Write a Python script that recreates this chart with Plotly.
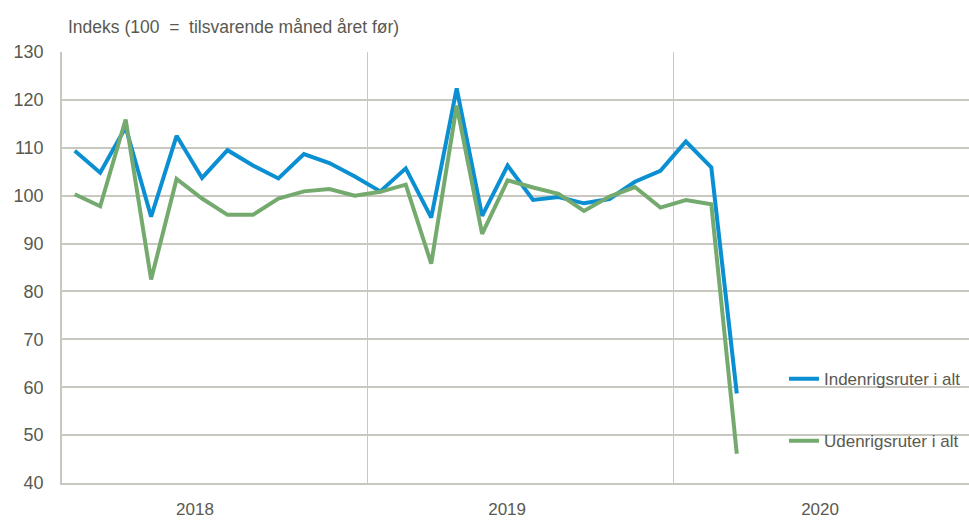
import numpy as np
import plotly.graph_objects as go

months = [
    "2018-01", "2018-02", "2018-03", "2018-04", "2018-05", "2018-06",
    "2018-07", "2018-08", "2018-09", "2018-10", "2018-11", "2018-12",
    "2019-01", "2019-02", "2019-03", "2019-04", "2019-05", "2019-06",
    "2019-07", "2019-08", "2019-09", "2019-10", "2019-11", "2019-12",
    "2020-01", "2020-02", "2020-03",
]
indenrigs = [
    109.4, 104.8, 114.3, 95.6, 112.5, 103.7, 109.5, 106.3, 103.6, 108.7, 106.8, 104.0,
    100.9, 105.7, 95.4, 122.4, 95.8, 106.3, 99.1, 99.7, 98.4, 99.3, 102.9, 105.2,
    111.3, 105.9, 58.7,
]
udenrigs = [
    100.3, 97.8, 115.9, 82.5, 103.5, 99.4, 96.0, 96.0, 99.4, 100.9, 101.4, 100.0,
    100.8, 102.3, 85.8, 118.8, 92.0, 103.2, 101.7, 100.4, 96.8, 99.8, 101.8, 97.5,
    99.1, 98.2, 46.1,
]
years = ["2018", "2019", "2020"]
year_label_pos = [5.22, 17.48, 29.77]
y_title = "Indeks (100  =  tilsvarende måned året før)"
name_ind = "Indenrigsruter i alt"
name_ud = "Udenrigsruter i alt"

x = np.arange(len(months)) + 0.5

FONT = "Liberation Sans, Arial, sans-serif"
TXT = "#595950"
GRID = "#c8c8c0"

fig = go.Figure()
fig.add_trace(go.Scatter(x=x, y=indenrigs, mode="lines", name=name_ind, showlegend=True,
                         line=dict(color="#0a8fd2", width=4), legend="legend"))
fig.add_trace(go.Scatter(x=x, y=udenrigs, mode="lines", name=name_ud, showlegend=True,
                         line=dict(color="#75aa6e", width=4), legend="legend2"))

leg_common = dict(font=dict(family=FONT, size=17, color=TXT), bgcolor="rgba(0,0,0,0)",
                  xanchor="left", yanchor="middle", x=0.796, visible=True)
fig.update_layout(
    width=969, height=522,
    margin=dict(l=62, r=0, t=52, b=39),
    plot_bgcolor="white", paper_bgcolor="white",
    font=dict(family=FONT, size=17, color=TXT),
    showlegend=True,
    legend=dict(y=0.241, **leg_common),
    legend2=dict(y=0.097, **leg_common),
    xaxis=dict(range=[0, 35.62], tickvals=year_label_pos, ticktext=years,
               showgrid=False, zeroline=False, showline=True, linecolor=GRID,
               linewidth=1.5, ticks="", ticklabelstandoff=10, automargin=False,
               tickfont=dict(size=17),
               minor=dict(tick0=0, dtick=12, showgrid=True, gridcolor=GRID, gridwidth=1.2, ticks="")),
    yaxis=dict(range=[40, 130], dtick=10, showgrid=True, gridcolor=GRID, gridwidth=1.5,
               zeroline=False, showline=True, linecolor=GRID, linewidth=1.5,
               ticks="", ticklabelstandoff=13, automargin=False,
               tickfont=dict(size=18)),
    annotations=[dict(text=y_title, xref="paper", yref="paper", x=0.004, y=1.058,
                      xanchor="left", yanchor="middle", showarrow=False,
                      font=dict(family=FONT, size=17.5, color=TXT))],
)
fig.write_html("out.html", config={"displayModeBar": False},
               post_script="document.body.style.margin='0px';")
